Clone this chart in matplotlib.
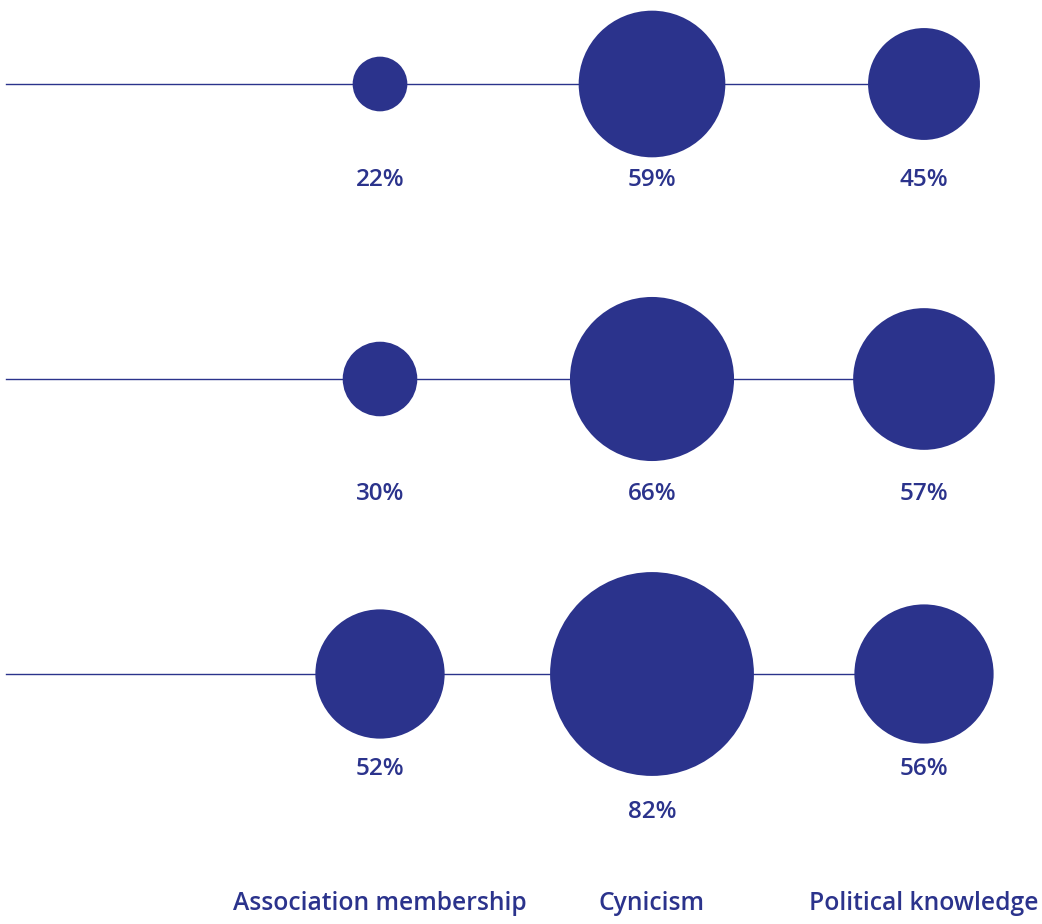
import matplotlib.pyplot as plt
from matplotlib.patches import Circle

# data
categories = ["Association membership", "Cynicism", "Political knowledge"]
row1 = [22, 59, 45]
row2 = [30, 66, 57]
row3 = [52, 82, 56]
rows = [row1, row2, row3]

# layout (pixel coordinates of a 1042x924 canvas)
col_x = [380, 652, 924]
row_y = [84, 379, 674]
label_y = [[180, 180, 180], [494, 494, 494], [769, 812, 769]]
px_per_pct = 1.243
navy = "#2b338c"

plt.rcParams['font.family'] = ['Open Sans', 'DejaVu Sans']

fig = plt.figure(figsize=(10.42, 9.24), dpi=100)
ax = fig.add_axes([0, 0, 1, 1])
ax.set_xlim(0, 1042)
ax.set_ylim(924, 0)
ax.set_aspect('equal')
ax.axis('off')

for r, vals in enumerate(rows):
    y = row_y[r]
    ax.plot([6, col_x[-1]], [y, y], color=navy, lw=1.0, zorder=1)
    for c, v in enumerate(vals):
        ax.add_patch(Circle((col_x[c], y), v * px_per_pct, color=navy, lw=0, zorder=2))
        ax.text(col_x[c], label_y[r][c], f"{v}%", ha='center', va='center',
                fontsize=17.5, color=navy, fontweight='semibold')

for c, name in enumerate(categories):
    ax.text(col_x[c], 904, name, ha='center', va='center',
            fontsize=17.7, color=navy, fontweight='semibold')

fig.savefig("out.png", dpi=100)
